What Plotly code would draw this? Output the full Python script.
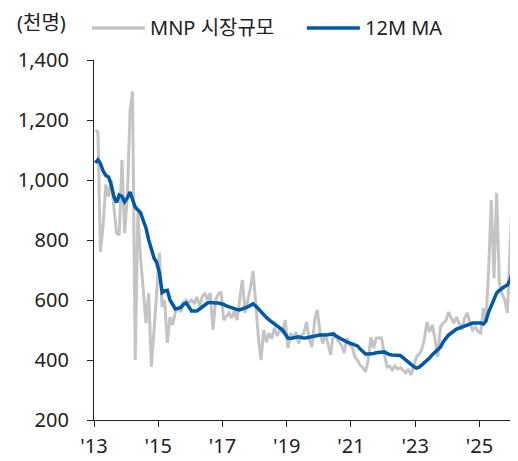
import plotly.graph_objects as go

# monthly MNP market size (thousand people), Jan 2013 - Feb 2026
mnp = [
    1167, 1160, 760, 850, 985, 945, 1000, 900, 823, 817, 1067, 823,
    943, 1230, 1295, 400, 890, 740, 620, 523, 623, 377, 500, 630,
    757, 577, 600, 457, 543, 517, 560, 577, 560, 593, 600, 590,
    600, 590, 610, 580, 610, 623, 600, 623, 500, 600, 620, 627,
    533, 545, 557, 540, 563, 533, 600, 667, 557, 600, 640, 697,
    583, 470, 400, 500, 460, 490, 470, 507, 480, 500, 490, 533,
    440, 490, 470, 493, 455, 480, 490, 527, 470, 443, 533, 567,
    490, 455, 490, 450, 417, 493, 475, 460, 450, 423, 473, 450,
    443, 410, 400, 383, 375, 360, 400, 475, 440, 473, 473, 473,
    420, 377, 380, 367, 380, 370, 375, 365, 357, 370, 350, 380,
    410, 420, 433, 470, 527, 493, 517, 470, 410, 510, 523, 530,
    560, 540, 523, 543, 520, 500, 540, 557, 523, 500, 510, 495,
    490, 573, 523, 700, 933, 673, 957, 657, 620, 600, 557, 780,
    1000, 523,
]

ma12 = [
    1057, 1067, 1055, 1030, 1015, 1010, 985, 945, 925, 950, 945, 927,
    940, 960, 935, 910, 900, 890, 865, 840, 800, 765, 740, 725,
    690, 625, 630, 632, 600, 585, 570, 572, 575, 585, 590, 578,
    563, 563, 563, 570, 577, 583, 590, 592, 590, 590, 590, 588,
    585, 580, 577, 573, 570, 568, 567, 570, 573, 577, 582, 587,
    580, 570, 558, 550, 542, 534, 527, 520, 513, 506, 500, 487,
    473, 472, 473, 475, 477, 475, 473, 474, 476, 478, 482, 483,
    483, 483, 483, 484, 486, 487, 480, 474, 470, 465, 460, 457,
    454, 450, 447, 437, 428, 420, 420, 420, 422, 424, 426, 427,
    427, 422, 418, 417, 417, 417, 415, 408, 400, 393, 385, 378,
    373, 376, 383, 390, 398, 407, 418, 427, 435, 443, 460, 472,
    483, 490, 497, 503, 506, 510, 514, 518, 521, 523, 523, 523,
    523, 520, 530, 560, 583, 600, 623, 632, 640, 645, 650, 667,
    700, 693,
]

dates = [f"{2013 + i // 12}-{i % 12 + 1:02d}-15" for i in range(len(mnp))]

tick_years = [2013, 2015, 2017, 2019, 2021, 2023, 2025]
tick_vals = [f"{y}-01-01" for y in tick_years]
tick_text = [f"'{y % 100}" for y in tick_years]

GRAY = "#c4c4c4"
BLUE = "#0058a8"
FONT = "Noto Sans, Noto Sans CJK KR, sans-serif"

fig = go.Figure()
fig.add_trace(go.Scatter(x=dates, y=mnp, mode="lines", name="MNP 시장규모",
                         line=dict(color=GRAY, width=3)))
fig.add_trace(go.Scatter(x=dates, y=ma12, mode="lines", name="12M MA",
                         line=dict(color=BLUE, width=3.5)))

# legend drawn by hand so the line samples match the original length
legend_items = [("MNP 시장규모", GRAY, -0.005), ("12M MA", BLUE, 0.502)]
for label, color, x0 in legend_items:
    fig.add_shape(type="line", xref="paper", yref="paper",
                  x0=x0, x1=x0 + 0.125, y0=1.089, y1=1.089,
                  line=dict(color=color, width=3.5))
    fig.add_annotation(xref="paper", yref="paper", x=x0 + 0.132, y=1.089,
                       text=label, showarrow=False, xanchor="left",
                       yanchor="middle", font=dict(size=20, color="#222"))

# unit label, pinned to the top of the figure
fig.add_annotation(xref="paper", yref="paper", x=-0.183, y=1.144,
                   text="(천명)", showarrow=False, xanchor="left",
                   yanchor="top", borderpad=0,
                   font=dict(size=20, color="#222"))

# the page body adds an 8px margin, so the figure is 8px smaller
fig.update_layout(
    width=510, height=453,
    margin=dict(l=86, r=0, t=52, b=41, autoexpand=False),
    paper_bgcolor="white", plot_bgcolor="white",
    showlegend=False,
    font=dict(family=FONT, size=20, color="#222"),
)
fig.update_xaxes(
    type="date", range=["2013-01-01", "2026-03-15"], automargin=False,
    tickmode="array", tickvals=tick_vals, ticktext=tick_text,
    showgrid=False, zeroline=False,
    showline=True, linecolor="#222", linewidth=1.2,
    ticks="outside", ticklen=6, tickcolor="#222", tickwidth=1.2,
    tickfont=dict(size=20), ticklabelstandoff=2,
)
fig.update_yaxes(
    range=[200, 1400], tickvals=[200, 400, 600, 800, 1000, 1200, 1400],
    tickformat=",", showgrid=False, zeroline=False, automargin=False,
    showline=True, linecolor="#222", linewidth=1.2,
    ticks="outside", ticklen=6, tickcolor="#222", tickwidth=1.2,
    tickfont=dict(size=20), ticklabelstandoff=14,
)

fig.write_html("out.html")
